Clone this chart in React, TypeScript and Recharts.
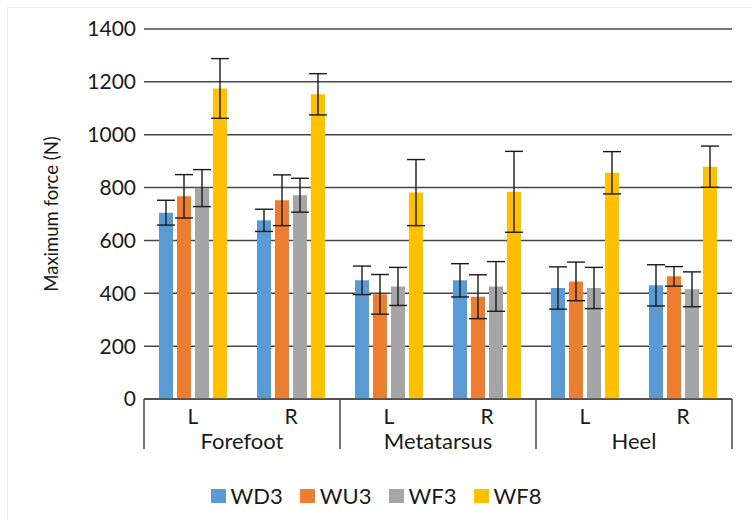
import React from 'react';
import { BarChart, Bar, XAxis, YAxis, CartesianGrid, ErrorBar, Legend, Label } from 'recharts';

const sides = ['L', 'R', 'L', 'R', 'L', 'R'];
const regions = ['Forefoot', 'Forefoot', 'Metatarsus', 'Metatarsus', 'Heel', 'Heel'];

const wd3 = [705, 676, 449, 449, 420, 430];
const wd3Err = [47, 42, 54, 63, 80, 78];
const wu3 = [767, 752, 396, 387, 445, 464];
const wu3Err = [82, 96, 75, 83, 73, 37];
const wf3 = [798, 771, 426, 426, 420, 415];
const wf3Err = [70, 64, 72, 94, 78, 66];
const wf8 = [1175, 1153, 781, 784, 856, 879];
const wf8Err = [113, 78, 125, 153, 80, 78];

const yTicks = [0, 200, 400, 600, 800, 1000, 1200, 1400];

const seriesNames = ['WD3', 'WU3', 'WF3', 'WF8'];
const seriesColors = ['#5B9BD5', '#ED7D31', '#A5A5A5', '#FFC000'];

const data = sides.map((s, i) => ({
  side: s,
  region: regions[i],
  WD3: wd3[i],
  WD3err: wd3Err[i],
  WU3: wu3[i],
  WU3err: wu3Err[i],
  WF3: wf3[i],
  WF3err: wf3Err[i],
  WF8: wf8[i],
  WF8err: wf8Err[i],
}));

const CHART_W = 752;
const CHART_H = 520;
const X_AXIS_H = 60;
const MARGIN = { top: 29, right: 20, left: 0, bottom: 121 - X_AXIS_H };
const Y_AXIS_W = 144;
const PLOT_W = CHART_W - MARGIN.left - MARGIN.right - Y_AXIS_W;
const BAND = PLOT_W / data.length;

const FONT = 'Lato, "Noto Sans", sans-serif';
const AXIS_COLOR = '#474747';
const TEXT_COLOR = '#1a1a1a';

const CategoryTick = (props: any) => {
  const { x, y, payload, index } = props;
  const axisY = y - 8;
  const i = index as number;
  const items: any[] = [];
  items.push(
    <text key="s" x={x} y={axisY + 25} textAnchor="middle" fontFamily={FONT} fontSize={21} fill={TEXT_COLOR}>
      {payload.value}
    </text>
  );
  if (i % 2 === 0) {
    items.push(
      <text key="g" x={x + BAND / 2} y={axisY + 50} textAnchor="middle" fontFamily={FONT} fontSize={22} fill={TEXT_COLOR}>
        {regions[i]}
      </text>
    );
    items.push(
      <line key="l" x1={x - BAND / 2} x2={x - BAND / 2} y1={axisY} y2={axisY + 50} stroke={AXIS_COLOR} strokeWidth={1.5} />
    );
  }
  if (i === data.length - 1) {
    items.push(
      <line key="r" x1={x + BAND / 2} x2={x + BAND / 2} y1={axisY} y2={axisY + 50} stroke={AXIS_COLOR} strokeWidth={1.5} />
    );
  }
  return <g>{items}</g>;
};

const LegendContent = (props: any) => {
  const payload = [...(props.payload || [])].sort(
    (a: any, b: any) => seriesNames.indexOf(a.value) - seriesNames.indexOf(b.value)
  );
  return (
    <div style={{ display: 'flex', justifyContent: 'center', alignItems: 'center', fontFamily: FONT, fontSize: 22, color: TEXT_COLOR }}>
      {payload.map((p: any, i: number) => (
        <div key={i} style={{ display: 'flex', alignItems: 'center', marginLeft: i === 0 ? 0 : 17 }}>
          <div style={{ width: 15, height: 14, background: p.color, marginRight: 5 }} />
          <span>{p.value}</span>
        </div>
      ))}
    </div>
  );
};

const YLabel = (props: any) => {
  const vb = props.viewBox || { x: 0, y: 0, width: 0, height: 0 };
  const cx = vb.x + 51;
  const cy = vb.y + vb.height / 2;
  return (
    <text x={cx} y={cy} transform={`rotate(-90, ${cx}, ${cy})`} textAnchor="middle" dominantBaseline="central" fontFamily={FONT} fontSize={18.5} fill={TEXT_COLOR}>
      Maximum force (N)
    </text>
  );
};

export default function App() {
  return (
    <div style={{ position: 'absolute', left: 0, top: 0, width: CHART_W, height: CHART_H, background: '#fff' }}>
      <div style={{ position: 'absolute', left: 7, top: 7, right: 0, bottom: 0, borderTop: '1px solid #ececec', borderLeft: '1px solid #ececec' }} />
      <BarChart
        width={CHART_W}
        height={CHART_H}
        data={data}
        margin={MARGIN}
        barCategoryGap={15}
        barGap={4}
      >
        <CartesianGrid vertical={false} stroke={AXIS_COLOR} strokeWidth={1.5} />
        <XAxis
          dataKey="side"
          tickLine={false}
          axisLine={{ stroke: AXIS_COLOR, strokeWidth: 1.5 }}
          tick={<CategoryTick />}
          interval={0}
          height={X_AXIS_H}
        />
        <YAxis
          width={Y_AXIS_W}
          domain={[0, 1400]}
          ticks={yTicks}
          interval={0}
          tickLine={false}
          axisLine={false}
          tick={{ fontFamily: FONT, fontSize: 21, fill: TEXT_COLOR }}
        >
          <Label content={<YLabel />} />
        </YAxis>
        <Legend
          layout="horizontal"
          verticalAlign="middle"
          align="center"
          wrapperStyle={{ top: 482, left: 0, width: CHART_W }}
          content={<LegendContent />}
        />
        {seriesNames.map((name, i) => (
          <Bar key={name} dataKey={name} fill={seriesColors[i]} isAnimationActive={false}>
            <ErrorBar dataKey={`${name}err`} width={9} stroke="#1a1a1a" strokeWidth={1.4} direction="y" />
          </Bar>
        ))}
      </BarChart>
    </div>
  );
}
